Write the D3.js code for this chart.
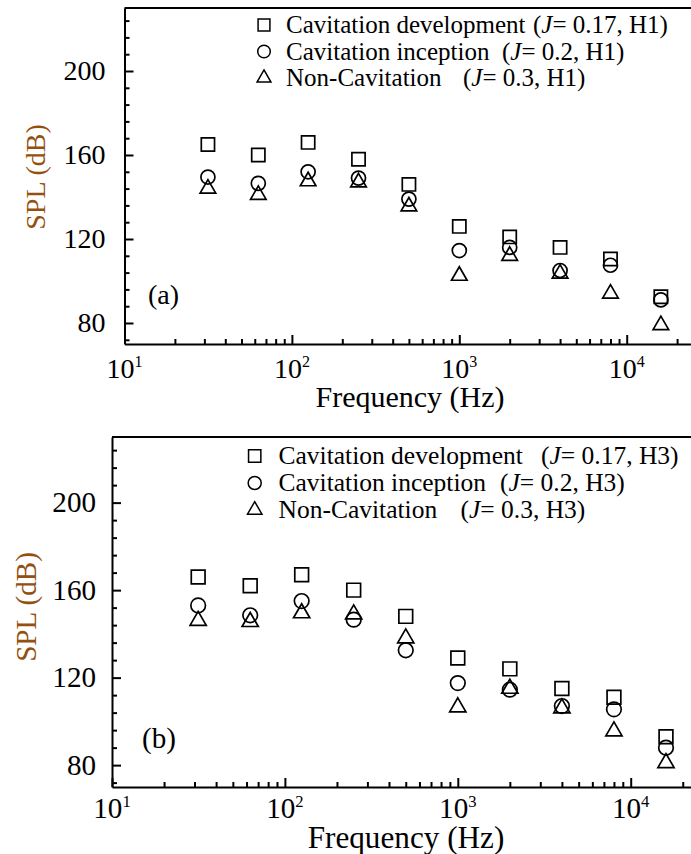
<!DOCTYPE html>
<html>
<head>
<meta charset="utf-8">
<script src="https://cdn.jsdelivr.net/npm/d3@7"></script>
<style>
  body { margin: 0; background: #fff; }
</style>
</head>
<body>
<svg id="chart" width="691" height="854"></svg>
<script>
// octave band centre frequencies (Hz)
const freqs = [31.5, 63, 125, 250, 500, 1000, 2000, 4000, 8000, 16000];

// SPL (dB), hull H1
const devH1 = [165, 160, 166, 158, 146, 126, 121, 116, 110.5, 92.5];
const incH1 = [149.5, 146.5, 152, 149, 139, 114.5, 116, 105, 107.5, 91];
const nonH1 = [144, 141, 147.5, 147, 135.5, 102.5, 112, 103.5, 94, 79];

// SPL (dB), hull H3
const devH3 = [166, 162, 167, 160, 148, 129, 124, 115, 111, 93];
const incH3 = [153, 148.5, 155, 146.5, 132.5, 117.5, 114.5, 107, 105.5, 88];
const nonH3 = [146, 145.5, 149.5, 149, 138, 106.5, 115, 106, 95.5, 81];

const seriesNames = ['Cavitation development', 'Cavitation inception', 'Non-Cavitation'];
const seriesJ = ['0.17', '0.2', '0.3'];
const xTickValues = [10, 100, 1000, 10000];
const xTickExp = ['1', '2', '3', '4'];
const yTickValues = [80, 120, 160, 200];

const FONT = '"Liberation Serif", "Times New Roman", Times, "DejaVu Serif", serif';

class SplPanel {

    constructor(_config, _data) {
        this.config = _config;
        this.data = _data;
        this.initVis();
    }

    initVis() {
        let vis = this;
        const c = vis.config;

        vis.svg = d3.select(c.parentElement).append('g')
            .attr('font-family', FONT);

        vis.x = d3.scaleLog()
            .domain([10, 1e5])
            .range([c.left, c.left + 4 * c.decade]);

        vis.y = d3.scaleLinear()
            .domain([70, 230])
            .range([c.bottom, c.top]);

        vis.symbols = [d3.symbolSquare, d3.symbolCircle, d3.symbolTriangle];
        vis.symbolSize = [175, 155, 105].map(s => s * c.k * c.k);

        vis.renderVis();
    }

    renderVis() {
        let vis = this;
        const c = vis.config;

        // top border (the frame runs off the right side of the picture)
        vis.svg.append('line')
            .attr('x1', c.left).attr('x2', 720)
            .attr('y1', c.top).attr('y2', c.top)
            .attr('stroke', '#000').attr('stroke-width', 2);

        // y axis, minor then major ticks
        const yMinor = d3.range(72, 230, 8).filter(v => !yTickValues.includes(v));
        const yMinorAxis = vis.svg.append('g')
            .attr('transform', `translate(${c.left},0)`)
            .call(d3.axisLeft(vis.y).tickValues(yMinor).tickSize(-5).tickFormat(''));
        yMinorAxis.select('.domain').remove();

        const yAxis = vis.svg.append('g')
            .attr('transform', `translate(${c.left},0)`)
            .call(d3.axisLeft(vis.y).tickValues(yTickValues).tickSizeInner(-9).tickSizeOuter(0)
                .tickPadding(c.yPad).tickFormat(d3.format('d')))
            .attr('font-family', FONT)
            .attr('font-size', 28 * c.k);
        yAxis.selectAll('text').attr('fill', '#000');

        // x axis (log), minor then major ticks
        const xMinor = [];
        xTickValues.forEach(d => d3.range(2, 10).forEach(m => xMinor.push(d * m)));
        const xMinorAxis = vis.svg.append('g')
            .attr('transform', `translate(0,${c.bottom})`)
            .call(d3.axisBottom(vis.x).tickValues(xMinor).tickSize(-5).tickFormat(''));
        xMinorAxis.select('.domain').remove();

        vis.svg.append('g')
            .attr('transform', `translate(0,${c.bottom})`)
            .call(d3.axisBottom(vis.x).tickValues(xTickValues).tickSizeInner(-9).tickSizeOuter(0).tickFormat(''));

        vis.svg.selectAll('.domain, .tick line')
            .attr('stroke', '#000')
            .attr('stroke-width', 2);

        // x tick labels as 10 with a superscript
        const xl = vis.svg.append('g').selectAll('text')
            .data(xTickValues)
            .join('text')
            .attr('x', d => vis.x(d))
            .attr('y', c.xLabelY)
            .attr('text-anchor', 'middle')
            .attr('font-size', 28 * c.k);
        xl.append('tspan').text('10');
        xl.append('tspan')
            .attr('font-size', 16 * c.k)
            .attr('dy', -11 * c.k)
            .text((d, i) => xTickExp[i]);

        // axis titles
        vis.svg.append('text')
            .attr('x', c.xTitleX)
            .attr('y', c.xTitleY)
            .attr('text-anchor', 'middle')
            .attr('font-size', 30 * c.k)
            .text('Frequency (Hz)');

        vis.svg.append('text')
            .attr('transform', `translate(${c.yTitle[0]},${c.yTitle[1]}) rotate(-90)`)
            .attr('text-anchor', 'middle')
            .attr('dominant-baseline', 'central')
            .attr('font-size', 28 * c.k)
            .attr('fill', '#94500f')
            .text('SPL (dB)');

        // panel tag
        vis.svg.append('text')
            .attr('x', c.tag[0])
            .attr('y', c.tag[1])
            .attr('font-size', 28 * c.k)
            .text(c.label);

        // data points, hollow markers
        vis.data.forEach((s, i) => {
            vis.svg.append('g').selectAll('path')
                .data(s.values.map((v, j) => ({ f: freqs[j], v: v })))
                .join('path')
                .attr('transform', d => `translate(${vis.x(d.f)},${vis.y(d.v)})`)
                .attr('d', d3.symbol(vis.symbols[i], vis.symbolSize[i]))
                .attr('fill', 'none')
                .attr('stroke', '#000')
                .attr('stroke-width', 1.7);
        });

        // legend
        const lg = c.legend;
        seriesNames.forEach((name, i) => {
            const yy = lg.y + i * lg.dy;
            vis.svg.append('path')
                .attr('transform', `translate(${lg.x},${yy})`)
                .attr('d', d3.symbol(vis.symbols[i], vis.symbolSize[i] * 0.8))
                .attr('fill', 'none')
                .attr('stroke', '#000')
                .attr('stroke-width', 1.5);
            vis.svg.append('text')
                .attr('x', lg.textX)
                .attr('y', yy + 8 * c.k)
                .attr('font-size', lg.fontSize)
                .text(name);
            const p = vis.svg.append('text')
                .attr('x', lg.parenX[i])
                .attr('y', yy + 8 * c.k)
                .attr('font-size', lg.fontSize);
            p.append('tspan').text('(');
            p.append('tspan').attr('font-style', 'italic').text('J');
            p.append('tspan').text(`= ${seriesJ[i]}, ${c.hull})`);
        });
    }
}

new SplPanel({
    parentElement: '#chart',
    left: 124.5, top: 8, bottom: 344, decade: 167.4, k: 1, yPad: 19,
    xLabelY: 378, xTitleX: 410, xTitleY: 407, yTitle: [35, 177],
    label: '(a)', tag: [148, 304], hull: 'H1',
    legend: { x: 264, y: 25, dy: 26.5, textX: 286, fontSize: 25, parenX: [533, 502, 463] }
}, [{ values: devH1 }, { values: incH1 }, { values: nonH1 }]);

new SplPanel({
    parentElement: '#chart',
    left: 112, top: 437, bottom: 787, decade: 172.9, k: 1.04, yPad: 16,
    xLabelY: 818, xTitleX: 406, xTitleY: 848, yTitle: [26, 607],
    label: '(b)', tag: [142, 748], hull: 'H3',
    legend: { x: 254.7, y: 456, dy: 27, textX: 278.5, fontSize: 25.5, parenX: [541, 500, 460.5] }
}, [{ values: devH3 }, { values: incH3 }, { values: nonH3 }]);
</script>
</body>
</html>
